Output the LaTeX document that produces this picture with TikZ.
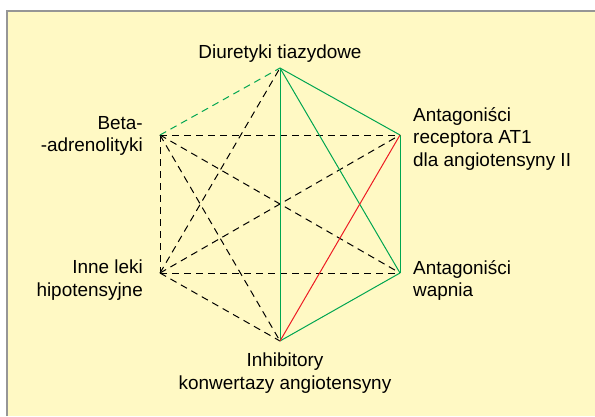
\documentclass[tikz,border=0pt]{standalone}
\usepackage{fontspec}
\setmainfont{Liberation Sans}
\definecolor{tlo}{RGB}{255,249,196}
\definecolor{ramka}{RGB}{150,150,150}
\definecolor{zielony}{RGB}{0,166,81}
\definecolor{czerwony}{RGB}{237,28,36}
\tikzset{
	lek/.style = {
		inner sep=0pt,
		font=\fontsize{19}{22.8}\selectfont
	},
	kreska/.style = {
		line width=1bp,
		dash pattern=on 7bp off 5bp
	},
	zgodne/.style = {
		line width=1bp,
		draw=zielony
	}
}

\begin{document}
\begin{tikzpicture}[x=1bp, y=-1bp]
		\useasboundingbox (0,0) rectangle (595,416);
		\fill[tlo] (7,11) rectangle (595,416);
		\draw[ramka, line width=1.5bp] (7,416) -- (7,11) -- (595,11);

		% wierzcholki szesciokata
		\coordinate (diur) at (280,68);
		\coordinate (at1) at (400,135);
		\coordinate (wapn) at (400,273);
		\coordinate (acei) at (280,341);
		\coordinate (inne) at (160,273);
		\coordinate (beta) at (160,135);

		\node[lek, align=center, anchor=base] (diurtxt) at (280,58) {Diuretyki tiazydowe};
		\node[lek, align=left, anchor=north west] (at1txt) at (413,107) {
			Antagoniści\\
			receptora AT1\\
			dla angiotensyny II
		};
		\node[lek, align=left, anchor=north west] (wapntxt) at (413,260) {
			Antagoniści\\
			wapnia
		};
		\node[lek, align=center, anchor=north] (aceitxt) at (285,353) {
			Inhibitory\\
			konwertazy angiotensyny
		};
		\node[lek, align=right, anchor=north east] (betatxt) at (143,116) {
			Beta-\\
			-adrenolityki
		};
		\node[lek, align=right, anchor=north east] (innetxt) at (143,260) {
			Inne leki\\
			hipotensyjne
		};

		% polaczenia
		\draw[kreska] (beta) -- (at1);
		\draw[kreska] (beta) -- (wapn);
		\draw[kreska] (beta) -- (acei);
		\draw[kreska] (beta) -- (inne);
		\draw[kreska] (inne) -- (diur);
		\draw[kreska] (inne) -- (at1);
		\draw[kreska] (inne) -- (wapn);
		\draw[kreska] (inne) -- (acei);
		\draw[kreska, zielony] (beta) -- (diur);
		\draw[zgodne] (diur) -- (at1);
		\draw[zgodne] (diur) -- (wapn);
		\draw[zgodne] (diur) -- (acei);
		\draw[zgodne] (at1) -- (wapn);
		\draw[zgodne] (wapn) -- (acei);
		\draw[line width=1bp, czerwony] (at1) -- (acei);
		\end{tikzpicture}
\end{document}
